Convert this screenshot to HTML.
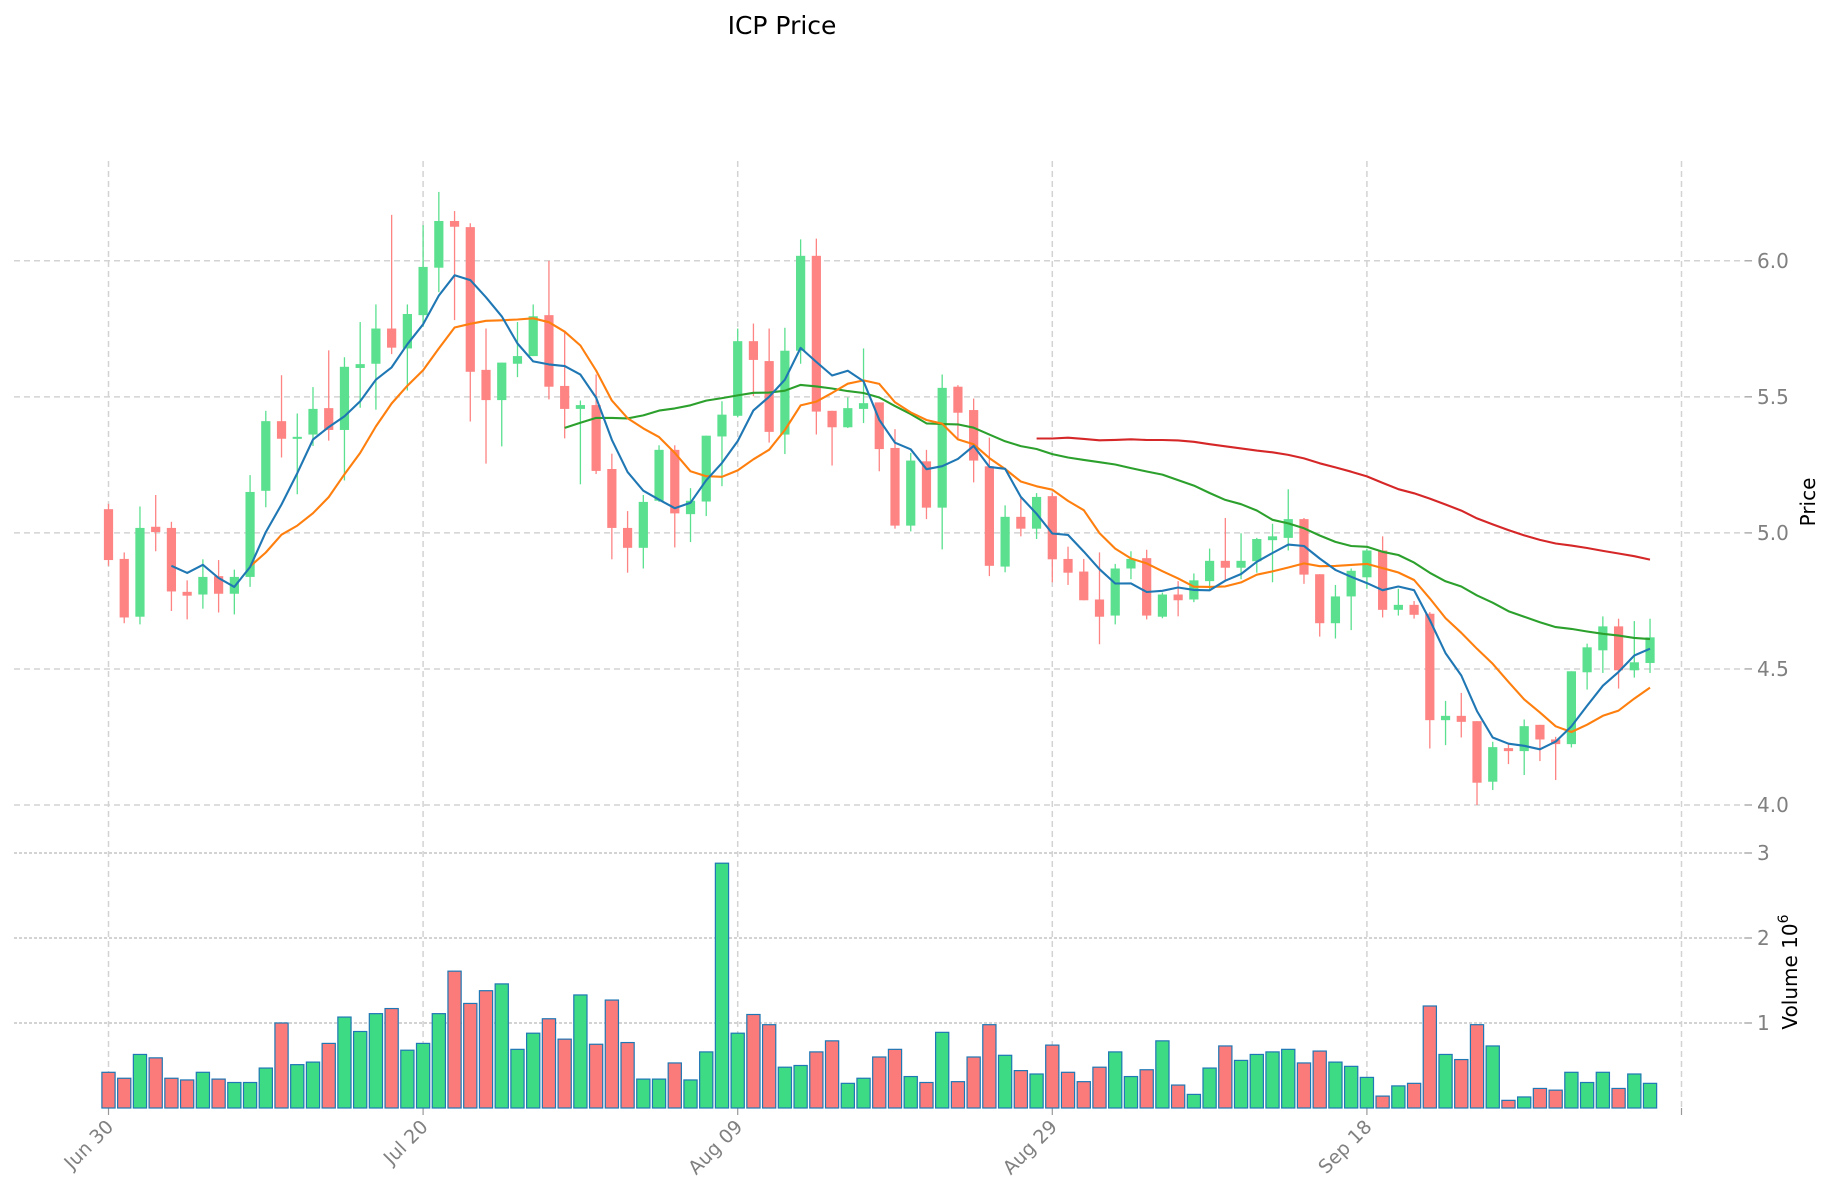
<!DOCTYPE html>
<html><head><meta charset="utf-8"><style>
html,body{margin:0;padding:0;background:#fff;}
svg{display:block;font-family:"DejaVu Sans","Liberation Sans",sans-serif;}
</style></head><body>
<svg id="c" width="1834" height="1202" viewBox="0 0 1834 1202" xmlns="http://www.w3.org/2000/svg">
<rect width="1834" height="1202" fill="#fff"/>
<text x="782" y="34" font-size="25" text-anchor="middle" fill="#000">ICP Price</text>
<text transform="translate(1815,502) rotate(-90)" font-size="20" text-anchor="middle" fill="#000">Price</text>
<text transform="translate(1797,972) rotate(-90)" font-size="20" text-anchor="middle" fill="#000">Volume  10<tspan dy="-9" font-size="14">6</tspan></text>
<g id="g"></g>
</svg>
<script>
var A=[ // zoom1/2 raw: color, bodyTop, bodyBot, wickTop, wickBot
['r',1017,1150,1003,1165],['r',1147,1300,1130,1315],['g',1066,1298,1010,1318],['r',1063,1077,980,1127],['r',1066,1232,1050,1283],
['r',1233,1243,1203,1305],['g',1194,1240,1148,1277],['r',1192,1238,1150,1287],['g',1194,1238,1175,1292],['g',972,1194,928,1220],
['g',787,969,760,1012],['r',787,833,667,882],['g',828,833,767,978],['g',755,822,698,852],['r',753,810,602,838],
['g',645,810,620,942],['g',638,648,528,752],['g',545,637,482,757],['r',545,595,248,612],['g',507,597,482,707],
['g',384,510,275,540],['g',264,386,188,450],['r',264,279,238,523],['r',280,658,270,788],['r',653,732,545,898],
['g',634,732,634,853],['g',617,637,528,672],['g',513,617,482,617],['r',510,697,368,730],['r',695,755,550,832],
['g',745,755,733,952],['r',745,917,665,925],['r',912,1066,872,1148],['r',1066,1118,1022,1183],['g',998,1118,980,1172],
['g',862,995,850,998],['r',862,1028,850,1117],['g',995,1030,962,1103],['g',825,997,825,1035],['g',770,827,735,957],
['g',578,773,545,777],['r',578,627,532,722],['r',630,815,545,843],['g',603,822,543,873],['g',355,603,312,637],
['r',355,762,310,822],['r',760,803,760,903],['g',753,803,725,805],['g',740,755,597,792],['r',738,860,738,918],
['r',857,1060,808,1068],['g',890,1060,870,1075],['r',892,1013,862,1043],['g',700,1013,665,1122],['r',697,765,693,833],
['r',758,890,728,947],['r',905,1165,830,1192],['g',1037,1167,1007,1182],['r',1037,1068,988,1088],['g',985,1068,975,1095],
['r',983,1148,975,1208],['r',1147,1183,1115,1215],['r',1180,1255,1147,1255],['r',1253,1298,1130,1370],['g',1172,1295,1160,1318],
['g',1147,1172,1127,1200],['r',1145,1295,1123,1305],['g',1240,1298,1235,1302],['r',1240,1255,1205,1297],['g',1203,1253,1185,1260],
['g',1152,1205,1120,1228],['r',1152,1170,1040,1203],['g',1152,1170,1080,1200],['g',1095,1153,1092,1183],['g',1088,1098,1055,1208],
['g',1043,1092,965,1125],['r',1043,1188,1040,1212],['r',1187,1315,1187,1350],['g',1245,1315,1215,1355],['g',1178,1245,1172,1333],
['g',1125,1195,1120,1225],['r',1125,1280,1088,1300],['g',1267,1280,1225,1295],['r',1267,1293,1257,1303]];
var B=[ // zoom4 raw for i84..98
['r',160,480,155,565],['g',467,480,422,555],['r',467,485,398,532],['r',483,668,483,735],['g',561,665,545,690],
['r',564,573,548,612],['g',498,573,478,645],['r',494,538,494,603],['r',538,552,530,660],['g',333,552,333,562],
['g',261,336,250,388],['g',198,270,168,338],['r',198,330,175,385],['g',306,330,182,352],['g',231,308,175,338]];
var V=[0.42,0.35,0.63,0.59,0.35,0.33,0.42,0.34,0.30,0.30,0.47,1.0,0.51,0.54,0.76,1.07,0.90,1.11,1.17,0.68,0.76,1.11,1.61,1.23,1.38,1.46,0.69,0.88,1.05,0.81,1.33,0.75,1.27,0.77,0.34,0.34,0.53,0.33,0.66,2.88,0.88,1.10,0.98,0.48,0.50,0.66,0.79,0.29,0.35,0.60,0.69,0.37,0.30,0.89,0.31,0.60,0.98,0.62,0.44,0.40,0.74,0.42,0.31,0.48,0.66,0.37,0.45,0.79,0.27,0.16,0.47,0.73,0.56,0.63,0.66,0.69,0.53,0.67,0.54,0.49,0.36,0.14,0.26,0.29,1.20,0.63,0.57,0.98,0.73,0.09,0.13,0.23,0.21,0.42,0.30,0.42,0.23,0.40,0.29];
function P1(y){return 6-(y-368)/711;}
function P4(y){return 4.5-(y-326)/818;}
var C=[];
A.forEach(function(a){C.push({c:a[0],bt:P1(a[1]),bb:P1(a[2]),h:P1(a[3]),l:P1(a[4])});});
B.forEach(function(a){C.push({c:a[0],bt:P4(a[1]),bb:P4(a[2]),h:P4(a[3]),l:P4(a[4])});});
function X(i){return 108.5+15.73*i;}
function Y(p){return 260.8+(6-p)*272.1;}
function VY(v){return 1108-85*v;}
var s='';
var GC='#d3d3d3';
// vertical grid
for(var k=0;k<=5;k++){var x=X(20*k);s+='<line x1="'+x+'" y1="161" x2="'+x+'" y2="1108" stroke="'+GC+'" stroke-width="1.5" stroke-dasharray="6,4"/>';
s+='<line x1="'+x+'" y1="1108" x2="'+x+'" y2="1115" stroke="#999" stroke-width="1.2"/>';}
// horizontal price grid
[6.0,5.5,5.0,4.5,4.0].forEach(function(p){var y=Y(p);s+='<line x1="14" y1="'+y+'" x2="1745" y2="'+y+'" stroke="'+GC+'" stroke-width="1.5" stroke-dasharray="6,4"/>';
s+='<line x1="1745" y1="'+y+'" x2="1752" y2="'+y+'" stroke="#999" stroke-width="1.2"/>';
s+='<text x="1757" y="'+(y+7)+'" font-size="20" fill="#808080">'+p.toFixed(1)+'</text>';});
[1,2,3].forEach(function(v){var y=VY(v);s+='<line x1="14" y1="'+y+'" x2="1745" y2="'+y+'" stroke="'+GC+'" stroke-width="2" stroke-dasharray="3,2"/>';
s+='<line x1="1745" y1="'+y+'" x2="1752" y2="'+y+'" stroke="#999" stroke-width="1.2"/>';
s+='<text x="1757" y="'+(y+7)+'" font-size="20" fill="#808080">'+v+'</text>';});
// x labels
['Jun 30','Jul 20','Aug 09','Aug 29','Sep 18'].forEach(function(t,k){var x=X(20*k)+6,y=1128;
s+='<text transform="translate('+x+','+y+') rotate(-45)" font-size="19" text-anchor="end" fill="#808080">'+t+'</text>';});
// volume bars
V.forEach(function(v,i){var col=C[i].c=='g'?'#3ddc84':'#fb7a7a';var w=13.2;
s+='<rect x="'+(X(i)-w/2)+'" y="'+VY(v)+'" width="'+w+'" height="'+(1108-VY(v))+'" fill="'+col+'" stroke="#1f77b4" stroke-width="1.2"/>';});
// candles
C.forEach(function(d,i){var col=d.c=='g'?'#5ae08e':'#fe8383';var x=X(i);
s+='<line x1="'+x+'" y1="'+Y(d.h)+'" x2="'+x+'" y2="'+Y(d.l)+'" stroke="'+col+'" stroke-width="1.3"/>';
var t=Y(d.bt),b=Y(d.bb);if(b-t<2){b=t+2;}
s+='<rect x="'+(x-4.6)+'" y="'+t+'" width="9.2" height="'+(b-t)+'" fill="'+col+'"/>';});
// MAs
var close=C.map(function(d){return d.c=='g'?d.bt:d.bb;});
function ma(n,col){var pts=[];for(var i=n-1;i<close.length;i++){var sm=0;for(var j=i-n+1;j<=i;j++)sm+=close[j];pts.push(X(i).toFixed(1)+','+Y(sm/n).toFixed(1));}
s+='<polyline points="'+pts.join(' ')+'" fill="none" stroke="'+col+'" stroke-width="2.1" stroke-linejoin="round"/>';}
ma(60,'#d62728');ma(30,'#2ca02c');ma(10,'#ff7f0e');ma(5,'#1f77b4');
document.getElementById('g').innerHTML=s;
</script>
</body></html>
